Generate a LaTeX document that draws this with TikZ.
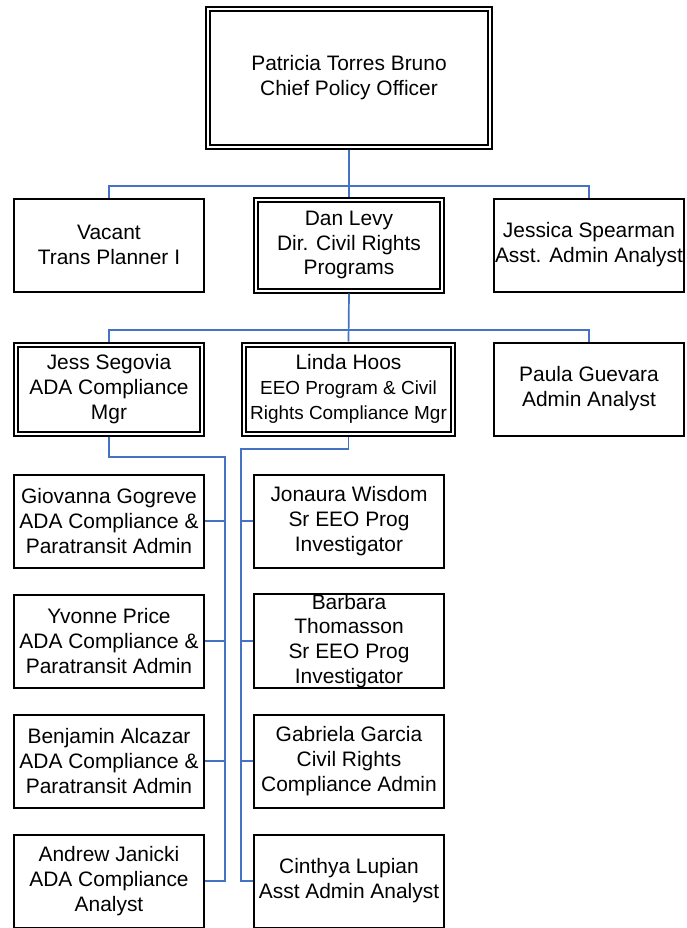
\documentclass[tikz,border=0pt]{standalone}
\usepackage{fontspec}
\setmainfont{Liberation Sans}
\definecolor{orgblue}{HTML}{4472C4}

\begin{document}
\begin{tikzpicture}[x=1bp, y=-1bp,
    card/.style={draw=black, line width=2bp, rectangle, inner sep=0pt, align=center,
        minimum width=190bp, minimum height=93bp, font=\fontsize{21}{25}\selectfont},
    headcard/.style={card, double, double distance=2bp, outer sep=3bp,
        minimum width=186bp, minimum height=89bp},
    wire/.style={draw=orgblue, line width=1.7bp}]

    % page size
    \useasboundingbox (0,0) rectangle (687,928);

    % variables
    \def\leftx{109}   % left column
    \def\midx{349}    % middle column
    \def\rightx{589}  % right column

    % Chief
    \node[headcard, minimum width=282bp, minimum height=138bp] (chief) at (\midx, 78)
        {Patricia Torres Bruno\\Chief Policy Officer};

    % Second row
    \node[card] (vacant) at (\leftx, 245) {Vacant\\Trans Planner I};
    \node[headcard, minimum height=91bp] (dan) at (\midx, 245) {Dan Levy\\Dir. Civil Rights\\Programs};
    \node[card] (jessica) at (\rightx, 245) {Jessica Spearman\\Asst. Admin Analyst};

    % Third row
    \node[headcard] (jess) at (\leftx, 389) {Jess Segovia\\ADA Compliance\\Mgr};
    \node[headcard, minimum width=209bp] (linda) at (348.5, 389)
        {Linda Hoos\\{\fontsize{19}{24}\selectfont EEO Program \& Civil}\\{\fontsize{19}{24}\selectfont Rights Compliance Mgr}};
    \node[card] (paula) at (\rightx, 389) {Paula Guevara\\Admin Analyst};

    % ADA staff (left column)
    \node[card] (giovanna) at (\leftx, 521) {Giovanna Gogreve\\ADA Compliance \&\\Paratransit Admin};
    \node[card] (yvonne) at (\leftx, 641) {Yvonne Price\\ADA Compliance \&\\Paratransit Admin};
    \node[card] (benjamin) at (\leftx, 761) {Benjamin Alcazar\\ADA Compliance \&\\Paratransit Admin};
    \node[card] (andrew) at (\leftx, 881) {Andrew Janicki\\ADA Compliance\\Analyst};

    % EEO staff (right column)
    \node[card] (jonaura) at (\midx, 521) {Jonaura Wisdom\\Sr EEO Prog\\Investigator};
    \node[card] (barbara) at (\midx, 641) {Barbara\\Thomasson\\Sr EEO Prog\\Investigator};
    \node[card] (gabriela) at (\midx, 761) {Gabriela Garcia\\Civil Rights\\Compliance Admin};
    \node[card] (cinthya) at (\midx, 881) {Cinthya Lupian\\Asst Admin Analyst};

    % bus points
    \coordinate (topbus) at (\midx, 186);
    \coordinate (midbus) at (\midx, 330);
    \coordinate (lspine) at (225, 457);
    \coordinate (rspine) at (241, 449);

    % Chief to second row
    \draw[wire] (chief.south) -- (dan.north);
    \draw[wire] (vacant.north) |- (topbus) -| (jessica.north);

    % Director to third row
    \draw[wire] (dan.south) -- (linda.north);
    \draw[wire] (jess.north) |- (midbus) -| (paula.north);

    % ADA manager spine
    \draw[wire] (jess.south) |- (lspine) -- (lspine |- andrew.east) -- (andrew.east);
    \draw[wire] (giovanna.east) -- (lspine |- giovanna.east);
    \draw[wire] (yvonne.east) -- (lspine |- yvonne.east);
    \draw[wire] (benjamin.east) -- (lspine |- benjamin.east);

    % EEO manager spine
    \draw[wire] (linda.south) |- (rspine) -- (rspine |- cinthya.west) -- (cinthya.west);
    \draw[wire] (jonaura.west) -- (rspine |- jonaura.west);
    \draw[wire] (barbara.west) -- (rspine |- barbara.west);
    \draw[wire] (gabriela.west) -- (rspine |- gabriela.west);

\end{tikzpicture}
\end{document}
